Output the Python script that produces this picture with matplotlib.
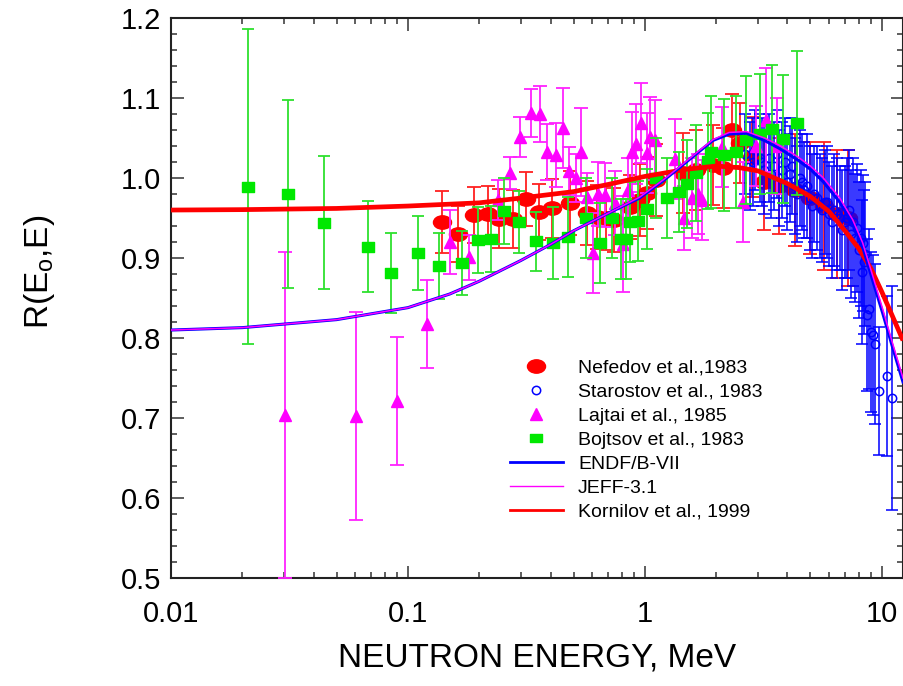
import numpy as np
import matplotlib
matplotlib.use('Agg')
import matplotlib.pyplot as plt
from matplotlib.lines import Line2D
from matplotlib.path import Path
from matplotlib.transforms import Affine2D
from matplotlib.ticker import MultipleLocator, FormatStrFormatter, FuncFormatter, LogLocator, NullFormatter

plt.rcParams['font.family'] = ['Liberation Sans', 'DejaVu Sans']
plt.rcParams['mathtext.default'] = 'regular'

# Nefedov et al., 1983
nef_e = [0.139, 0.163, 0.190, 0.217, 0.242, 0.277, 0.315, 0.357, 0.405, 0.483, 0.57, 0.626, 0.685, 0.74,
         0.865, 0.95, 1.02, 1.12, 1.45, 1.65, 1.94, 2.13, 2.33, 2.52, 2.83, 3.2, 3.7, 4.3, 5.0, 5.7, 6.5, 7.2]
nef_r = [0.945, 0.930, 0.954, 0.955, 0.949, 0.949, 0.974, 0.958, 0.962, 0.969, 0.956, 0.951, 0.950, 0.948,
         0.964, 0.972, 0.981, 0.997, 1.006, 1.010, 1.016, 1.012, 1.060, 1.044, 1.026, 0.995, 0.990, 0.985,
         0.975, 0.965, 0.955, 0.950]
nef_err = [0.039, 0.035, 0.035, 0.035, 0.037, 0.036, 0.034, 0.035, 0.037, 0.04, 0.04, 0.04, 0.04, 0.04,
           0.04, 0.045, 0.045, 0.045, 0.05, 0.05, 0.05, 0.05, 0.045, 0.05, 0.05, 0.06, 0.06, 0.07, 0.07,
           0.08, 0.08, 0.085]

# Starostov et al., 1983
sta_e = [2.64, 2.77, 2.85, 2.92, 3.05, 3.12, 3.2, 3.35, 3.42, 3.5, 3.6, 3.7, 3.8, 3.9, 4.0, 4.1, 4.2,
         4.3, 4.4, 4.5, 4.6, 4.7, 4.85, 5.0, 5.1, 5.2, 5.35, 5.5, 5.62, 5.75, 5.9, 6.0, 6.15, 6.3, 6.45,
         6.65, 6.8, 7.0, 7.15, 7.3, 7.45, 7.6, 7.75, 7.9, 8.05, 8.15, 8.25, 8.31, 8.4, 8.5, 8.64, 8.8,
         9.0, 9.17, 9.34, 9.71, 10.5, 11.1]
sta_r = [1.03, 1.015, 1.02, 1.035, 1.025, 1.02, 1.01, 1.025, 1.005, 1.015, 1.03, 1.0, 1.01, 1.02, 0.995,
         1.005, 1.015, 0.99, 0.98, 1.0, 0.995, 0.985, 0.99, 0.975, 0.965, 0.98, 0.975, 0.965, 0.96, 0.97,
         0.97, 0.955, 0.945, 0.96, 0.955, 0.95, 0.935, 0.945, 0.95, 0.96, 0.93, 0.945, 0.925, 0.9375, 0.91,
         0.925, 0.8825, 0.919, 0.895, 0.905, 0.829, 0.836, 0.8075, 0.804, 0.7925, 0.734, 0.7525, 0.725]
sta_err = [0.05, 0.055, 0.055, 0.05, 0.055, 0.055, 0.055, 0.055, 0.055, 0.055, 0.055, 0.06, 0.06, 0.055,
           0.06, 0.06, 0.06, 0.06, 0.06, 0.06, 0.06, 0.06, 0.065, 0.065, 0.065, 0.06, 0.065, 0.065, 0.065,
           0.065, 0.07, 0.065, 0.07, 0.07, 0.07, 0.065, 0.075, 0.07, 0.075, 0.075, 0.08, 0.08, 0.08, 0.08,
           0.085, 0.085, 0.09, 0.085, 0.09, 0.09, 0.095, 0.1, 0.1, 0.1, 0.1, 0.08, 0.1, 0.14]

# Lajtai et al., 1985
laj_e = [0.0303, 0.0603, 0.0899, 0.120, 0.150, 0.181, 0.240, 0.269, 0.297, 0.330, 0.361, 0.386, 0.42,
         0.451, 0.478, 0.512, 0.54, 0.57, 0.604, 0.634, 0.679, 0.75, 0.808, 0.85, 0.881, 0.92, 0.962,
         1.02, 1.05, 1.10, 1.34, 1.47, 1.58, 1.67, 1.74, 2.11, 2.59, 2.95, 3.24, 3.6]
laj_r = [0.704, 0.7025, 0.721, 0.8175, 0.920, 0.901, 0.973, 1.006, 1.051, 1.081, 1.080, 1.0325, 1.029,
         1.0625, 1.009, 1.000, 1.0325, 0.976, 0.906, 0.980, 0.979, 0.969, 0.9175, 0.985, 1.0325, 1.0425,
         1.069, 1.031, 1.051, 1.0475, 1.024, 0.950, 0.975, 0.980, 0.9725, 1.039, 0.970, 1.040, 1.0725, 1.04]
laj_err = [0.204, 0.13, 0.08, 0.055, 0.04, 0.028, 0.025, 0.02, 0.025, 0.03, 0.035, 0.035, 0.04, 0.05,
           0.03, 0.03, 0.055, 0.03, 0.05, 0.04, 0.04, 0.04, 0.06, 0.04, 0.05, 0.05, 0.05, 0.05, 0.05,
           0.05, 0.05, 0.04, 0.05, 0.05, 0.05, 0.05, 0.05, 0.05, 0.065, 0.06]

# Bojtsov et al., 1983
boj_e = [0.0211, 0.0312, 0.0442, 0.0678, 0.0848, 0.110, 0.135, 0.169, 0.197, 0.224, 0.254, 0.294, 0.347,
         0.409, 0.473, 0.565, 0.65, 0.73, 0.79, 0.83, 0.87, 0.94, 1.02, 1.12, 1.24, 1.40, 1.50, 1.65,
         1.84, 1.90, 2.15, 2.42, 2.67, 3.06, 3.45, 3.84, 4.37]
boj_r = [0.989, 0.980, 0.944, 0.914, 0.881, 0.906, 0.890, 0.894, 0.9225, 0.924, 0.959, 0.945, 0.921,
         0.919, 0.926, 0.950, 0.919, 0.950, 0.924, 0.924, 0.945, 0.946, 0.961, 1.000, 0.975, 0.9825,
         0.9925, 1.006, 1.021, 1.0325, 1.029, 1.0325, 1.0475, 1.055, 1.061, 1.049, 1.069]
boj_err = [0.197, 0.117, 0.083, 0.057, 0.05, 0.046, 0.041, 0.040, 0.041, 0.041, 0.041, 0.039, 0.037,
           0.045, 0.05, 0.05, 0.05, 0.05, 0.05, 0.05, 0.05, 0.05, 0.05, 0.05, 0.05, 0.05, 0.055, 0.06,
           0.06, 0.07, 0.07, 0.07, 0.08, 0.075, 0.08, 0.08, 0.09]

# evaluations
endf_e = [0.01, 0.02, 0.05, 0.1, 0.15, 0.2, 0.3, 0.4, 0.5, 0.7, 0.95, 1.2, 1.4, 1.66, 1.94, 2.27, 2.69,
          3.2, 3.7, 4.4, 5.0, 5.64, 6.65, 7.54, 8.31, 9.16, 10.1, 11.1, 12.3]
endf_r = [0.810, 0.813, 0.823, 0.838, 0.855, 0.871, 0.897, 0.917, 0.934, 0.956, 0.975, 0.997, 1.013,
          1.031, 1.047, 1.055, 1.056, 1.047, 1.037, 1.023, 1.011, 0.996, 0.970, 0.943, 0.914, 0.872,
          0.831, 0.789, 0.745]
jeff_r = [0.810, 0.813, 0.823, 0.838, 0.855, 0.871, 0.897, 0.917, 0.934, 0.956, 0.976, 0.998, 1.014,
          1.032, 1.048, 1.057, 1.058, 1.050, 1.041, 1.027, 1.015, 1.001, 0.975, 0.948, 0.919, 0.878,
          0.836, 0.794, 0.750]
kor_e = [0.01, 0.02, 0.05, 0.1, 0.2, 0.3, 0.5, 0.7, 1.0, 1.5, 2.0, 2.5, 3.0, 4.0, 5.0, 6.0, 7.0, 8.0,
         9.0, 10.0, 11.0, 12.3]
kor_r = [0.960, 0.9605, 0.962, 0.965, 0.969, 0.975, 0.983, 0.992, 1.002, 1.011, 1.015, 1.013, 1.009,
         0.993, 0.977, 0.958, 0.934, 0.912, 0.887, 0.858, 0.830, 0.797]

RED = '#ff0000'
BLUE = '#0000ff'
MAG = '#ff00ff'
GREEN = '#00e800'

# wide ellipse and flat square markers
ellipse = Path.unit_circle().transformed(Affine2D().scale(1.0, 0.74))
flat_sq = Path.unit_rectangle().transformed(Affine2D().translate(-0.5, -0.5).scale(1.0, 0.8))

fig = plt.figure(figsize=(9.04, 6.86), dpi=100)
ax = fig.add_axes([0.1892, 0.1574, 0.8097, 0.8163])

ax.errorbar(nef_e, nef_r, yerr=nef_err, fmt='none', ecolor='#ff2020', elinewidth=1.3,
            capsize=5, capthick=1.3, zorder=2)
ax.plot(nef_e, nef_r, ls='none', marker=ellipse, ms=13, color=RED, mec=RED, zorder=2.1)

ax.errorbar(sta_e, sta_r, yerr=sta_err, fmt='none', ecolor=BLUE, elinewidth=1.3,
            capsize=4.5, capthick=1.3, alpha=0.85, zorder=3)
ax.plot(sta_e, sta_r, ls='none', marker='o', ms=6, mfc='none', mec=BLUE, mew=1.1, zorder=3.1)

ax.errorbar(laj_e, laj_r, yerr=laj_err, fmt='none', ecolor='#ff22ff', elinewidth=1.3,
            capsize=5, capthick=1.3, zorder=4)
ax.plot(laj_e, laj_r, ls='none', marker='^', ms=8.5, color=MAG, mec=MAG, zorder=4.1)

ax.errorbar(boj_e, boj_r, yerr=boj_err, fmt='none', ecolor='#2ee02e', elinewidth=1.3,
            capsize=4.5, capthick=1.3, zorder=5)
ax.plot(boj_e, boj_r, ls='none', marker=flat_sq, ms=8.5, color=GREEN, mec=GREEN, zorder=5.1)

ax.plot(kor_e, kor_r, color=RED, lw=3.4, zorder=6, solid_capstyle='butt')
ax.plot(endf_e, endf_r, color=BLUE, lw=2.2, zorder=7)
ax.plot(endf_e, jeff_r, color=MAG, lw=1.1, zorder=8)

ax.set_xscale('log')
ax.set_xlim(0.01, 12.3)
ax.set_ylim(0.5, 1.2)

ax.yaxis.set_major_locator(MultipleLocator(0.1))
ax.yaxis.set_minor_locator(MultipleLocator(0.02))
ax.yaxis.set_major_formatter(FormatStrFormatter('%.1f'))
ax.xaxis.set_major_locator(LogLocator(base=10))
ax.xaxis.set_minor_locator(LogLocator(base=10, subs=np.arange(2, 10)))
ax.xaxis.set_major_formatter(FuncFormatter(lambda v, p: '%g' % v))
ax.xaxis.set_minor_formatter(NullFormatter())

ax.tick_params(which='both', direction='in', top=True, right=True, color='#333333', width=1.1)
ax.tick_params(which='major', length=9, labelsize=21)
ax.tick_params(which='minor', length=4.5)
ax.tick_params(axis='x', which='major', pad=16)
ax.tick_params(axis='y', which='major', pad=7)
for sp in ax.spines.values():
    sp.set_linewidth(1.5)
    sp.set_color('#222222')

ax.set_xlabel('NEUTRON ENERGY, MeV', fontsize=24, labelpad=10)
fig.text(40 / 904, 1 - 272 / 686, 'R(E$_{o}$,E)', rotation=90, fontsize=24, ha='center', va='center')

handles = [
    Line2D([], [], ls='none', marker=ellipse, ms=13, color=RED, mec=RED),
    Line2D([], [], ls='none', marker='o', ms=6, mfc='none', mec=BLUE, mew=1.1),
    Line2D([], [], ls='none', marker='^', ms=8.5, color=MAG, mec=MAG),
    Line2D([], [], ls='none', marker=flat_sq, ms=8, color=GREEN, mec=GREEN),
    Line2D([], [], color=BLUE, lw=2),
    Line2D([], [], color=MAG, lw=1),
    Line2D([], [], color=RED, lw=2),
]
labels = ['Nefedov et al.,1983', 'Starostov et al., 1983', 'Lajtai et al., 1985', 'Bojtsov et al., 1983',
          'ENDF/B-VII', 'JEFF-3.1', 'Kornilov et al., 1999']
ax.legend(handles, labels, loc='upper left', bbox_to_anchor=(510 / 904, 1 - 359 / 686),
          bbox_transform=fig.transFigure, frameon=False, fontsize=14, borderpad=0,
          handlelength=2.7, handletextpad=0.8, labelspacing=0.33, borderaxespad=0)

fig.savefig('out.png', dpi=100)
